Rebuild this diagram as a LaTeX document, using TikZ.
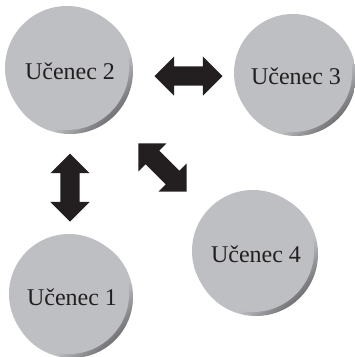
\documentclass[tikz,border=0pt]{standalone}
\usepackage{fontspec}
\setmainfont{Liberation Serif}
\usetikzlibrary{shapes.arrows,fadings}
\definecolor{face}{HTML}{BEBFC3}
\definecolor{rimlight}{HTML}{D8D9DC}
\definecolor{rimdark}{HTML}{3C3C3E}
\definecolor{ink}{HTML}{231F20}

% bevel under each disc, dark towards the lower right
\pgfdeclareverticalshading{bevel}{100bp}{color(0bp)=(rimdark); color(16bp)=(rimdark); color(38bp)=(face); color(68bp)=(face); color(85bp)=(rimlight); color(100bp)=(rimlight)}
% soft edged disc for the flat face
\pgfdeclareradialshading{softdiscshade}{\pgfpointorigin}{color(0bp)=(pgftransparent!0); color(36bp)=(pgftransparent!0); color(50bp)=(pgftransparent!100)}
\pgfdeclarefading{softdisc}{\pgfuseshading{softdiscshade}}

\tikzset{
  student/.style={circle,inner sep=0pt,text=ink,font=\fontsize{24}{28}\selectfont},
  dblarrow/.style={double arrow,fill=ink,draw=none,inner xsep=0pt,inner ysep=9.5pt,
    minimum height=68pt,double arrow head extend=10pt,double arrow tip angle=90},
}

\begin{document}
\begin{tikzpicture}[x=1pt,y=-1pt]
\useasboundingbox (0,0) rectangle (355,357);
\foreach \nm/\cx/\cy/\r/\lbl in {u2/70/71/63/2,u3/296/76/60/3,u1/72/297/61/1,u4/256/254/62/4}{
  \shade[shading=bevel,shading angle=45] (\cx,\cy) circle (\r);
  \fill[face,path fading=softdisc] (\cx-3,\cy-3) circle (\r-1);
  \node[student] (\nm) at (\cx,\cy) {Učenec \lbl};
}
% arrows between the students
\node[dblarrow] (a23) at (188.5,76) {};
\node[dblarrow,rotate=90] (a21) at (70,187.5) {};
\node[dblarrow,rotate=-45] (a24) at (162.5,167.5) {};
\end{tikzpicture}
\end{document}
